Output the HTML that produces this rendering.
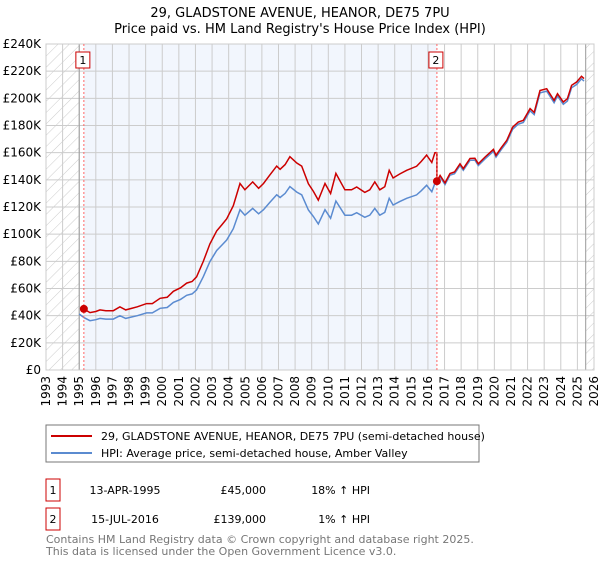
<!DOCTYPE html>
<html><head><meta charset="utf-8">
<style>
body{margin:0;background:#fff;font-family:"Liberation Sans","DejaVu Sans",sans-serif;}
svg text{font-family:"DejaVu Sans","Liberation Sans",sans-serif;}
</style></head>
<body>
<svg id="chart" width="600" height="560" viewBox="0 0 600 560" xmlns="http://www.w3.org/2000/svg">
<defs>
<pattern id="hatch" patternUnits="userSpaceOnUse" width="8" height="8" patternTransform="rotate(45)">
<line x1="0" y1="0" x2="0" y2="8" stroke="#ccc" stroke-width="1"/>
</pattern>
</defs>
<text x="300" y="17" text-anchor="middle" font-size="13">29, GLADSTONE AVENUE, HEANOR, DE75 7PU</text>
<text x="300" y="33" text-anchor="middle" font-size="13">Price paid vs. HM Land Registry's House Price Index (HPI)</text>
<g id="plot"></g>
<g>
<rect x="46" y="425" width="433" height="37" fill="#fff" stroke="#777"/>
<line x1="51" y1="436" x2="92" y2="436" stroke="#cc0000" stroke-width="2"/>
<text x="101" y="440" font-size="11">29, GLADSTONE AVENUE, HEANOR, DE75 7PU (semi-detached house)</text>
<line x1="51" y1="453" x2="92" y2="453" stroke="#5b8bd0" stroke-width="2"/>
<text x="101" y="457" font-size="11">HPI: Average price, semi-detached house, Amber Valley</text>
</g>
<g font-size="11">
<rect x="46" y="479" width="14" height="22" fill="#fff" stroke="#cc0000"/>
<text x="53" y="494" text-anchor="middle">1</text>
<text x="125" y="494" text-anchor="middle">13-APR-1995</text>
<text x="266" y="494" text-anchor="end">£45,000</text>
<text x="370" y="494" text-anchor="end">18% ↑ HPI</text>
<rect x="46" y="508" width="14" height="22" fill="#fff" stroke="#cc0000"/>
<text x="53" y="523" text-anchor="middle">2</text>
<text x="125" y="523" text-anchor="middle">15-JUL-2016</text>
<text x="266" y="523" text-anchor="end">£139,000</text>
<text x="370" y="523" text-anchor="end">1% ↑ HPI</text>
</g>
<text x="46" y="543" font-size="11" fill="#777">Contains HM Land Registry data © Crown copyright and database right 2025.</text>
<text x="46" y="555" font-size="11" fill="#777">This data is licensed under the Open Government Licence v3.0.</text>
</svg>
<script>
const hpiYears=[1995.0,1995.3,1995.65,1996.0,1996.25,1996.6,1997.05,1997.45,1997.8,1998.15,1998.5,1999.06,1999.4,1999.87,2000.3,2000.67,2001.1,2001.47,2001.8,2002.07,2002.47,2002.87,2003.28,2003.6,2003.88,2004.28,2004.68,2004.98,2005.45,2005.8,2006.1,2006.45,2006.89,2007.1,2007.4,2007.69,2008.1,2008.4,2008.8,2009.1,2009.4,2009.8,2010.14,2010.46,2011.0,2011.4,2011.71,2012.2,2012.5,2012.8,2013.1,2013.4,2013.67,2013.9,2014.3,2014.72,2015.32,2015.6,2015.92,2016.23,2016.42,2016.53,2016.73,2017.03,2017.33,2017.6,2017.93,2018.13,2018.53,2018.83,2019.03,2019.44,2019.94,2020.1,2020.4,2020.75,2021.1,2021.44,2021.74,2022.15,2022.4,2022.75,2023.15,2023.6,2023.8,2024.15,2024.4,2024.65,2024.95,2025.25,2025.4];
const hpiValues=[41.2,38.5,36.3,37,38,37.5,37.5,40,38,39,40,42,42,45.4,46,49.8,52,55,56,59,68.7,79.8,88,92,95.7,104,118,114,119,115,118,123,129,127,130,135,131,129,117.8,113,107.5,118,111.7,124.4,114,114,115.8,112.4,114,119,114,116,126.4,121.5,124,126.4,128.9,132,136,131.3,137.5,137.6,142,136.6,143.4,144.5,150.5,147,154.4,154.5,150.5,155.5,161,156.7,162,167.7,177.2,181,182.2,190.8,188,204,205.3,196.8,201.7,195.6,198,207.8,210.2,214.4,212.7];
const sale1=[1995.28,45];
const sale2=[2016.54,139];
const yTicks=[0,20,40,60,80,100,120,140,160,180,200,220,240];
const xTicks=[1993,1994,1995,1996,1997,1998,1999,2000,2001,2002,2003,2004,2005,2006,2007,2008,2009,2010,2011,2012,2013,2014,2015,2016,2017,2018,2019,2020,2021,2022,2023,2024,2025,2026];

const L=46,R=594,T=44,B=370;
const x=v=>L+(v-1993)/(2026-1993)*(R-L);
const y=v=>B-v/240*(B-T);
const NS="http://www.w3.org/2000/svg";
const g=document.getElementById('plot');
function mk(tag,attrs){const e=document.createElementNS(NS,tag);for(const k in attrs)e.setAttribute(k,attrs[k]);g.appendChild(e);return e;}

let e=mk('rect',{x:L,y:T,width:R-L,height:B-T,fill:'#fff'});


e=mk('rect',{x:x(sale1[0]),y:T,width:x(sale2[0])-x(sale1[0]),height:B-T,fill:'#eef3fc',opacity:0.75});


e=mk('rect',{x:L,y:T,width:x(1995)-L,height:B-T,fill:'url(#hatch)'});


e=mk('rect',{x:x(2025.5),y:T,width:R-x(2025.5),height:B-T,fill:'url(#hatch)'});



yTicks.forEach(t=>{
 const l=mk('line',{x1:L,x2:R,y1:y(t),y2:y(t),stroke:'#ccc','stroke-width':1});
 
 
 const tx=mk('text',{x:L-5,y:y(t)+4,'text-anchor':'end','font-size':12});
 
 
 tx.textContent=t===0?'£0':'£'+t+'K';
});
xTicks.forEach(t=>{
 const l=mk('line',{x1:x(t),x2:x(t),y1:T,y2:B,stroke:'#ccc','stroke-width':1});
 
 
 const tx=mk('text',{x:0,y:0,'text-anchor':'end','font-size':12,transform:`translate(${x(t)+4},${B+6}) rotate(-90)`});
 
 
 tx.textContent=t;
});
[1995,2025.5].forEach(t=>{
 const l=mk('line',{x1:x(t),x2:x(t),y1:T,y2:B,stroke:'#999','stroke-width':1});
 
 
});
e=mk('rect',{x:L,y:T,width:R-L,height:B-T,fill:'none',stroke:'#ccc'});



function hpiAt(t){for(let i=1;i<hpiYears.length;i++){if(hpiYears[i]>=t){const a=hpiYears[i-1],b=hpiYears[i];return hpiValues[i-1]+(hpiValues[i]-hpiValues[i-1])*(t-a)/(b-a);}}return hpiValues[hpiValues.length-1];}
const hp=hpiYears.map((t,i)=>x(t).toFixed(1)+','+y(hpiValues[i]).toFixed(1)).join(' ');
e=mk('polyline',{points:hp,fill:'none',stroke:'#5b8bd0','stroke-width':1.5});



const pts=[[sale1[0],sale1[1]]];
let broke=false;
hpiYears.forEach((t,i)=>{if(t<sale1[0])return;
 if(t>=sale2[0]&&!broke){pts.push([sale2[0],sale1[1]*hpiAt(sale2[0])/hpiAt(sale1[0])]);pts.push([sale2[0],sale2[1]]);broke=true;}
 const s=t<sale2[0]?sale1:sale2;pts.push([t,s[1]*hpiValues[i]/hpiAt(s[0])]);});
e=mk('polyline',{points:pts.map(p=>x(p[0]).toFixed(1)+','+y(p[1]).toFixed(1)).join(' '),fill:'none',stroke:'#cc0000','stroke-width':1.5});



[sale1,sale2].forEach((s,i)=>{
 const l=mk('line',{x1:x(s[0]),x2:x(s[0]),y1:T,y2:B,stroke:'#ff6666','stroke-width':1,'stroke-dasharray':'2,2'});
 
 
 const c=mk('circle',{cx:x(s[0]),cy:y(s[1]),r:4,fill:'#cc0000'});
 
 
 const bx=mk('rect',{x:x(s[0])-8,y:52,width:14,height:16,fill:'#fff',stroke:'#cc0000'});
 
 
 const tx=mk('text',{x:x(s[0])-1,y:64,'text-anchor':'middle','font-size':11});
 
 
 tx.textContent=String(i+1);
});
</script>
</body></html>
